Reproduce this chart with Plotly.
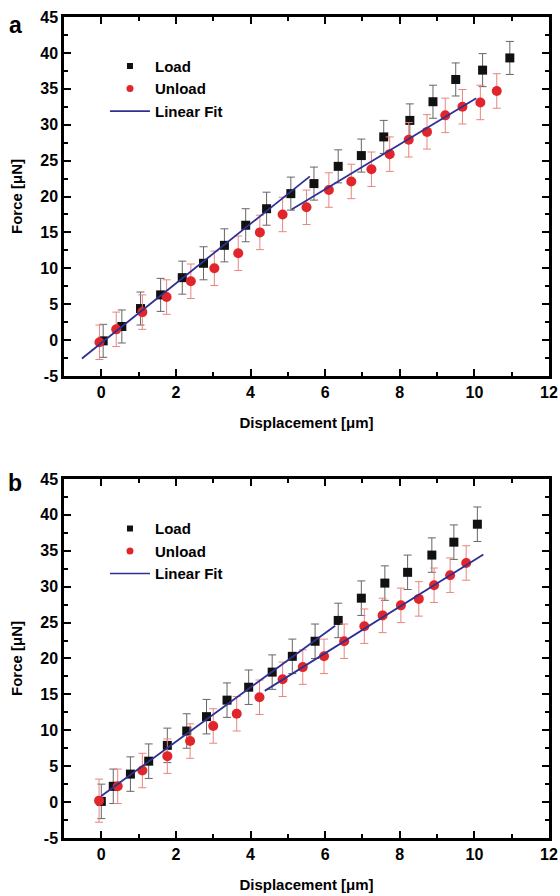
import plotly.graph_objects as go
from plotly.subplots import make_subplots

# ---------------- Data ----------------
# Panel a
a_load_x = [0.05, 0.55, 1.05, 1.59, 2.17, 2.74, 3.30, 3.87, 4.43, 5.08, 5.70, 6.35, 6.97, 7.57, 8.27, 8.89, 9.50, 10.22, 10.95]
a_load_y = [-0.1, 1.9, 4.4, 6.3, 8.7, 10.7, 13.2, 16.0, 18.3, 20.4, 21.8, 24.2, 25.7, 28.3, 30.6, 33.2, 36.3, 37.6, 39.3]
a_load_err = [2.3] * 19
a_unload_x = [-0.05, 0.40, 1.10, 1.75, 2.40, 3.03, 3.67, 4.25, 4.86, 5.50, 6.10, 6.70, 7.24, 7.73, 8.24, 8.73, 9.22, 9.68, 10.16, 10.60]
a_unload_y = [-0.3, 1.5, 3.9, 6.0, 8.2, 10.0, 12.1, 15.0, 17.5, 18.5, 20.9, 22.1, 23.8, 25.9, 27.9, 29.0, 31.3, 32.5, 33.1, 34.7]
a_unload_err = [2.4] * 20
# linear fits: slope, intercept, x start, x end
a_fit_slope = [4.15, 3.13]
a_fit_icpt = [-0.40, 2.24]
a_fit_x0 = [-0.52, 5.10]
a_fit_x1 = [5.59, 10.05]

# Panel b
b_load_x = [0.00, 0.32, 0.78, 1.27, 1.77, 2.29, 2.82, 3.37, 3.95, 4.58, 5.12, 5.73, 6.35, 6.97, 7.60, 8.21, 8.86, 9.45, 10.08]
b_load_y = [0.1, 2.2, 3.9, 5.7, 7.9, 9.9, 11.9, 14.2, 16.0, 18.1, 20.3, 22.4, 25.3, 28.4, 30.5, 32.0, 34.4, 36.2, 38.7]
b_load_err = [2.4] * 19
b_unload_x = [-0.06, 0.44, 1.10, 1.77, 2.38, 3.00, 3.63, 4.24, 4.86, 5.40, 5.97, 6.51, 7.05, 7.54, 8.03, 8.51, 8.92, 9.35, 9.78]
b_unload_y = [0.2, 2.2, 4.4, 6.4, 8.5, 10.6, 12.3, 14.6, 17.1, 18.8, 20.3, 22.4, 24.5, 26.0, 27.4, 28.3, 30.2, 31.6, 33.3]
b_unload_err = [3.0, 2.4, 2.4, 2.4, 2.4, 2.4, 2.4, 2.4, 2.4, 2.4, 2.4, 2.4, 2.4, 2.4, 2.4, 2.4, 2.4, 2.4, 2.4]
b_fit_slope = [3.78, 3.24]
b_fit_icpt = [0.85, 1.30]
b_fit_x0 = [0.00, 4.38]
b_fit_x1 = [6.27, 10.24]

x_tick_vals = [0, 2, 4, 6, 8, 10, 12]
x_tick_text = ["0", "2", "4", "6", "8", "10", "12"]
y_tick_vals = [-5, 0, 5, 10, 15, 20, 25, 30, 35, 40, 45]
y_tick_text = ["-5", "0", "5", "10", "15", "20", "25", "30", "35", "40", "45"]

# ---------------- Style ----------------
FONT = "Liberation Sans, Arial, sans-serif"
BLACK = "#111111"
RED = "#e0262b"
BLUE = "#2e3192"
LOAD_ERR = "#666666"
UNLOAD_ERR = "#e8857f"


def fit_line(slopes, icpts, x0s, x1s):
    xs, ys = [], []
    for s, c, a, b in zip(slopes, icpts, x0s, x1s):
        xs += [a, b, None]
        ys += [s * a + c, s * b + c, None]
    return xs, ys


fig = make_subplots(rows=2, cols=1, vertical_spacing=0.1254)

panels = [
    (1, "legend", a_load_x, a_load_y, a_load_err, a_unload_x, a_unload_y, a_unload_err,
     fit_line(a_fit_slope, a_fit_icpt, a_fit_x0, a_fit_x1)),
    (2, "legend2", b_load_x, b_load_y, b_load_err, b_unload_x, b_unload_y, b_unload_err,
     fit_line(b_fit_slope, b_fit_icpt, b_fit_x0, b_fit_x1)),
]

for row, leg, lx, ly, le, ux, uy, ue, (fx, fy) in panels:
    fig.add_trace(go.Scatter(
        x=lx, y=ly, mode="markers", name="Load", legend=leg, showlegend=False,
        marker=dict(symbol="square", size=9, color=BLACK),
        error_y=dict(type="data", array=le, color=LOAD_ERR, thickness=1, width=4),
    ), row=row, col=1)
    fig.add_trace(go.Scatter(
        x=ux, y=uy, mode="markers", name="Unload", legend=leg, showlegend=False,
        marker=dict(symbol="circle", size=10, color=RED),
        error_y=dict(type="data", array=ue, color=UNLOAD_ERR, thickness=1, width=4),
    ), row=row, col=1)
    fig.add_trace(go.Scatter(
        x=fx, y=fy, mode="lines", name="Linear Fit", legend=leg, showlegend=False,
        line=dict(color=BLUE, width=1.8),
    ), row=row, col=1)
    # legend entries (smaller symbols as in the reference legend)
    fig.add_trace(go.Scatter(x=[None], y=[None], mode="markers", name="Load", legend=leg,
                             marker=dict(symbol="square", size=6, color=BLACK)), row=row, col=1)
    fig.add_trace(go.Scatter(x=[None], y=[None], mode="markers", name="Unload", legend=leg,
                             marker=dict(symbol="circle", size=7, color=RED)), row=row, col=1)
    fig.add_trace(go.Scatter(x=[None], y=[None], mode="lines", name="Linear Fit", legend=leg,
                             line=dict(color=BLUE, width=1.6)), row=row, col=1)

axis_common = dict(
    showgrid=False, zeroline=False, showline=True, linecolor="black", linewidth=2.5,
    mirror="allticks", ticks="inside", ticklen=7, tickwidth=2, tickcolor="black",
    tickfont=dict(family=FONT, size=16, color="black", weight="bold"),
    automargin=False,
)
for row in (1, 2):
    fig.update_xaxes(
        range=[-1, 12], tickmode="array", tickvals=x_tick_vals, ticktext=x_tick_text,
        minor=dict(dtick=1, ticks="inside", ticklen=4, tickwidth=2, tickcolor="black"),
        title=dict(text="Displacement [μm]", font=dict(family=FONT, size=15, color="black", weight="bold"),
                   standoff=18),
        row=row, col=1, **axis_common)
    fig.update_yaxes(
        range=[-5, 45], tickmode="array", tickvals=y_tick_vals, ticktext=y_tick_text,
        minor=dict(dtick=2.5, tick0=0, ticks="inside", ticklen=4, tickwidth=2, tickcolor="black"),
        title=dict(text="Force [μN]", font=dict(family=FONT, size=15, color="black", weight="bold"),
                   standoff=14),
        row=row, col=1, **axis_common)

fig.update_xaxes(domain=[0, 1])
fig.update_yaxes(domain=[0.5627, 1.0], row=1, col=1)
fig.update_yaxes(domain=[0.0, 0.4373], row=2, col=1)

legend_common = dict(
    bgcolor="rgba(0,0,0,0)", borderwidth=0,
    font=dict(family=FONT, size=15, color="black", weight="bold"),
    xanchor="left", yanchor="top", tracegroupgap=0, itemwidth=40,
)
fig.update_layout(
    width=560, height=896,
    margin=dict(l=64, r=11, t=17, b=58, autoexpand=False),
    paper_bgcolor="white", plot_bgcolor="white",
    font=dict(family=FONT, color="black"),
    showlegend=True,
    legend=dict(x=0.0845, y=0.960, **legend_common),
    legend2=dict(x=0.0845, y=0.3968, **legend_common),
    annotations=[
        dict(text="<b>a</b>", x=-0.101, y=0.99, xref="paper", yref="paper", xanchor="center", yanchor="middle",
             showarrow=False, font=dict(family=FONT, size=23, color="black")),
        dict(text="<b>b</b>", x=-0.101, y=0.4324, xref="paper", yref="paper", xanchor="center", yanchor="middle",
             showarrow=False, font=dict(family=FONT, size=23, color="black")),
    ],
)

fig.write_html("out.html", config={"displayModeBar": False},
               post_script="document.body.style.margin='0px';")
